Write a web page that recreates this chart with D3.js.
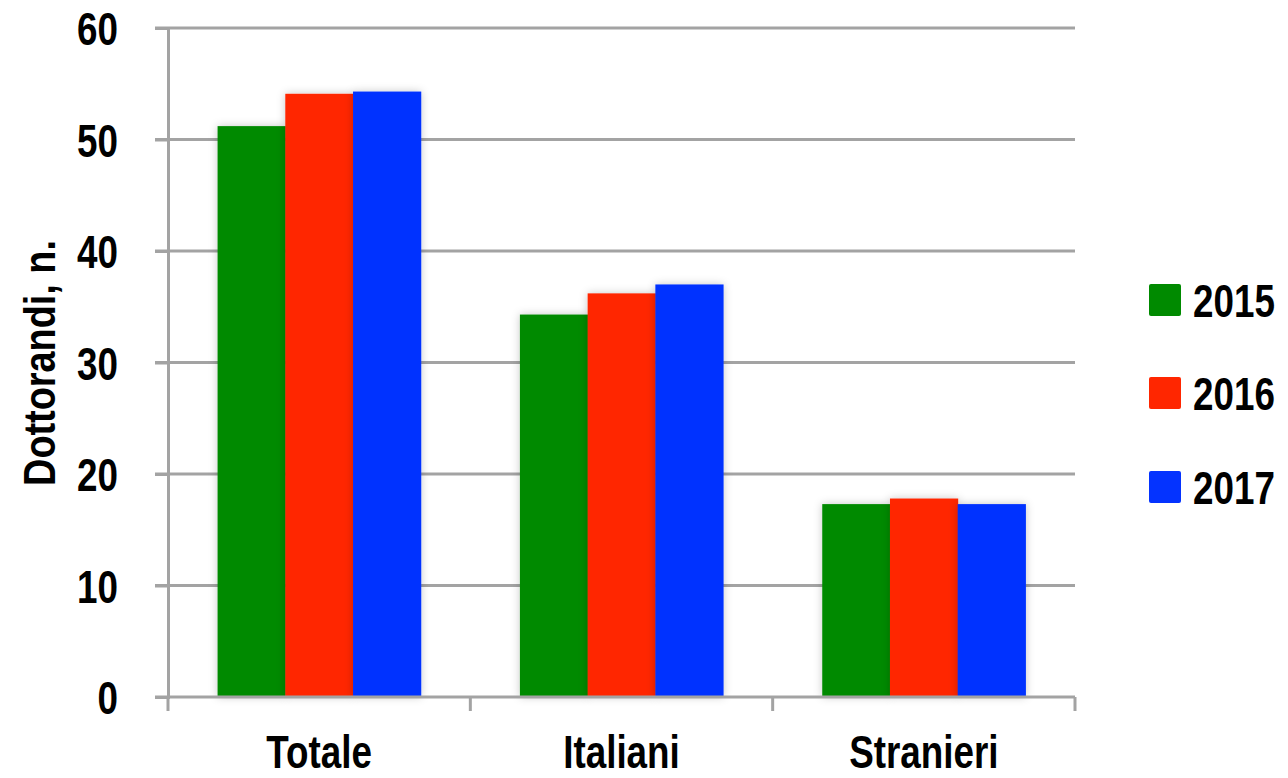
<!DOCTYPE html>
<html><head><meta charset="utf-8">
<script src="https://cdn.jsdelivr.net/npm/d3@7"></script>
<style>
html,body{margin:0;padding:0;background:#fff;}
text{font-family:"Liberation Sans",Arial,sans-serif;font-weight:bold;fill:#000;}
</style></head>
<body><svg id="c" width="1288" height="778"></svg>
<script>
const categories = ["Totale", "Italiani", "Stranieri"];
const years = ["2015", "2016", "2017"];
const v2015 = [51.2, 34.3, 17.3];
const v2016 = [54.1, 36.2, 17.8];
const v2017 = [54.3, 37.0, 17.3];
const yTicks = [0, 10, 20, 30, 40, 50, 60];
const colors = ["#008a00", "#ff2600", "#0433ff"];
const yLabel = "Dottorandi, n.";

const series = [v2015, v2016, v2017];
const svg = d3.select("#c");
const m = {l:168, r:1075, t:28, b:697};
const grid = "#a3a3a3";
const S = 0.8;

// condense text horizontally via transform
function squeeze(sel, s, rot){
  sel.each(function(){
    const t = d3.select(this);
    const x = +t.attr("x") || 0, y = +t.attr("y") || 0;
    t.attr("x", 0).attr("y", 0)
     .attr("transform", `translate(${x},${y})${rot?` rotate(${rot})`:""} scale(${s},1)`);
  });
}

const defs = svg.append("defs");
const f = defs.append("filter").attr("id","sh").attr("x","-20%").attr("y","-10%").attr("width","140%").attr("height","120%");
f.append("feDropShadow").attr("dx",0).attr("dy",0).attr("stdDeviation",4).attr("flood-color","#000").attr("flood-opacity",0.22);

const x = d3.scaleBand().domain(categories).range([m.l, m.r]).padding(0);
const y = d3.scaleLinear().domain([0, 60]).range([m.b, m.t]);
const groupFrac = 0.672;
const x1 = d3.scaleBand().domain(years).range([0, x.bandwidth()*groupFrac]).padding(0);

// grid
svg.append("g").selectAll("line").data(yTicks.filter(d=>d>0)).join("line")
  .attr("x1", m.l-13).attr("x2", m.r).attr("y1", d=>y(d)).attr("y2", d=>y(d))
  .attr("stroke", grid).attr("stroke-width", 3);

// bars
const gBars = svg.append("g");
categories.forEach((c, ci) => {
  const x0 = x(c) + x.bandwidth()*(1-groupFrac)/2;
  years.forEach((yr, si) => {
    gBars.append("rect")
      .attr("x", x0 + x1(yr)).attr("width", x1.bandwidth()+0.5)
      .attr("y", y(series[si][ci])).attr("height", y(0)-y(series[si][ci]))
      .attr("fill", colors[si]).attr("filter","url(#sh)");
  });
});

// y axis
const yAxis = d3.axisLeft(y).tickValues(yTicks).tickSize(13).tickPadding(37);
const ga = svg.append("g").attr("transform", `translate(${m.l},0)`).call(yAxis);
ga.select(".domain").attr("stroke", grid).attr("stroke-width", 3);
ga.selectAll(".tick line").attr("stroke", grid).attr("stroke-width", 3);
ga.selectAll(".tick text").attr("font-size", 46).attr("dy", "0.36em")
  .style("font-family","'Liberation Sans',Arial,sans-serif").style("font-weight","bold").attr("fill","#000")
  .call(squeeze, S);

// x axis
const xAxis = d3.axisBottom(x).tickSize(0).tickFormat(()=>"");
const gx = svg.append("g").attr("transform", `translate(0,${m.b})`).call(xAxis);
gx.select(".domain").attr("stroke", grid).attr("stroke-width", 3).attr("d", `M${m.l-13},0H${m.r}`);
const bounds = categories.map(c => x(c)).concat([m.r]);
gx.append("g").selectAll("line").data(bounds).join("line")
  .attr("x1", d=>d).attr("x2", d=>d).attr("y1", 0).attr("y2", 14)
  .attr("stroke", grid).attr("stroke-width", 3);
gx.append("g").selectAll("text").data(categories).join("text")
  .attr("x", d=>x(d)+x.bandwidth()/2).attr("y", 71)
  .attr("text-anchor","middle").attr("font-size", 46).text(d=>d).call(squeeze, S);

// y label
svg.append("text").attr("x", 55).attr("y", 363)
  .attr("text-anchor","middle").attr("font-size", 44).text(yLabel).call(squeeze, 0.86, -90);

// legend
const lg = svg.append("g");
const ly = [300, 393, 487];
years.forEach((yr, i) => {
  lg.append("rect").attr("x", 1149).attr("y", ly[i]-16).attr("width", 32).attr("height", 32)
    .attr("rx", 2).attr("fill", colors[i]);
  lg.append("text").attr("x", 1193).attr("y", ly[i]).attr("dy","0.36em")
    .attr("font-size", 46).text(yr).call(squeeze, S);
});
</script></body></html>
